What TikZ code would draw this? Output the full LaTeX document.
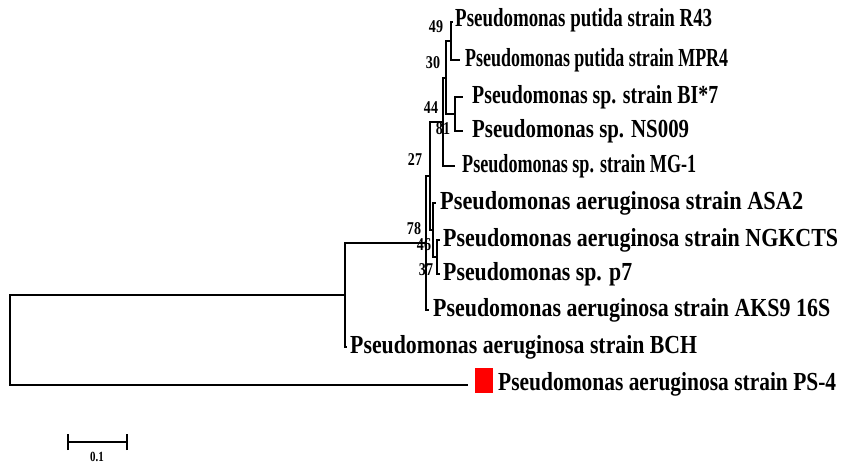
\documentclass[tikz,border=0pt]{standalone}
\usepackage{fontspec}
\setmainfont{Liberation Serif}
\usepackage{graphicx}
\newsavebox\fitbox
\newcommand\fitto[2]{\sbox\fitbox{#2}\pgfmathsetmacro\fitr{#1/\the\wd\fitbox}\scalebox{\fitr}[1]{\usebox\fitbox}}
\newcommand\bsl[1]{\scalebox{0.78}[1]{#1}}
\tikzset{
  br/.style={line width=2pt},
  leaf/.style={anchor=west, inner sep=0pt, font=\fontsize{26}{26}\selectfont\bfseries},
  bs/.style={inner sep=0pt, font=\fontsize{18}{18}\selectfont\bfseries},
}
\begin{document}
\begin{tikzpicture}[x=1pt,y=-1pt]
\useasboundingbox (0,0) rectangle (846,463);
% internal nodes
\coordinate (n1) at (451,41);
\coordinate (n3) at (455,114);
\coordinate (n2) at (446,78);
\coordinate (n4) at (443,122);
\coordinate (n8) at (437,257);
\coordinate (n6) at (433,230);
\coordinate (n5) at (430,176);
\coordinate (n7) at (426,243);
\coordinate (n9) at (345,295);
\coordinate (root) at (10,340);
% leaf ends
\coordinate (e1) at (453,22);
\coordinate (e2) at (460,60);
\coordinate (e3) at (463,97);
\coordinate (e4) at (463,131);
\coordinate (e5) at (455,166);
\coordinate (e6) at (436,203);
\coordinate (e7) at (440,240);
\coordinate (e8) at (440,274);
\coordinate (e9) at (429,310);
\coordinate (e10) at (347,347);
\coordinate (e11) at (468,385);
% branches
\draw[br] (n1) |- (e1);
\draw[br] (n1) |- (e2);
\draw[br] (n3) |- (e3);
\draw[br] (n3) |- (e4);
\draw[br] (n2) |- (n1);
\draw[br] (n2) |- (n3);
\draw[br] (n4) |- (n2);
\draw[br] (n4) |- (e5);
\draw[br] (n8) |- (e7);
\draw[br] (n8) |- (e8);
\draw[br] (n6) |- (e6);
\draw[br] (n6) |- (n8);
\draw[br] (n5) |- (n4);
\draw[br] (n5) |- (n6);
\draw[br] (n7) |- (n5);
\draw[br] (n7) |- (e9);
\draw[br] (n9) |- (n7);
\draw[br] (n9) |- (e10);
\draw[br] (root) |- (n9);
\draw[br] (root) |- (e11);
% leaf labels
\node[leaf] (t1) at (455,20) {\fitto{257}{Pseudomonas putida strain R43}};
\node[leaf] (t2) at (465,60) {\fitto{263}{Pseudomonas putida strain MPR4}};
\node[leaf] (t3) at (472,97) {\fitto{246}{Pseudomonas sp. strain BI*7}};
\node[leaf] (t4) at (472,131) {\fitto{217}{Pseudomonas sp. NS009}};
\node[leaf] (t5) at (462,166) {\fitto{234}{Pseudomonas sp. strain MG-1}};
\node[leaf] (t6) at (440,203) {\fitto{363}{Pseudomonas aeruginosa strain ASA2}};
\node[leaf] (t7) at (443,240) {\fitto{395}{Pseudomonas aeruginosa strain NGKCTS}};
\node[leaf] (t8) at (443,274) {\fitto{189}{Pseudomonas sp. p7}};
\node[leaf] (t9) at (433,310) {\fitto{397}{Pseudomonas aeruginosa strain AKS9 16S}};
\node[leaf] (t10) at (350,347) {\fitto{347}{Pseudomonas aeruginosa strain BCH}};
\node[fill=red, minimum width=18pt, minimum height=25pt, inner sep=0pt, anchor=north west] (sq) at (475,368) {};
\node[leaf] (t11) at (498,384) {\fitto{338}{Pseudomonas aeruginosa strain PS-4}};
% bootstrap values
\node[bs] (b49) at (436,27) {\bsl{49}};
\node[bs] (b30) at (433,63) {\bsl{30}};
\node[bs] (b44) at (431,108) {\bsl{44}};
\node[bs] (b81) at (443,129) {\bsl{81}};
\node[bs] (b27) at (415,160) {\bsl{27}};
\node[bs] (b78) at (414,229) {\bsl{78}};
\node[bs] (b46) at (424,245) {\bsl{46}};
\node[bs] (b37) at (426,270) {\bsl{37}};
% scale bar
\coordinate (s1) at (68,442);
\coordinate (s2) at (127,442);
\draw[br] (s1) -- (s2);
\draw[br] ([yshift=-8pt]s1) -- ([yshift=8pt]s1);
\draw[br] ([yshift=-8pt]s2) -- ([yshift=8pt]s2);
\node[inner sep=0pt, font=\fontsize{14}{14}\selectfont\bfseries] (sl) at (97,457) {\bsl{0.1}};
\end{tikzpicture}
\end{document}
